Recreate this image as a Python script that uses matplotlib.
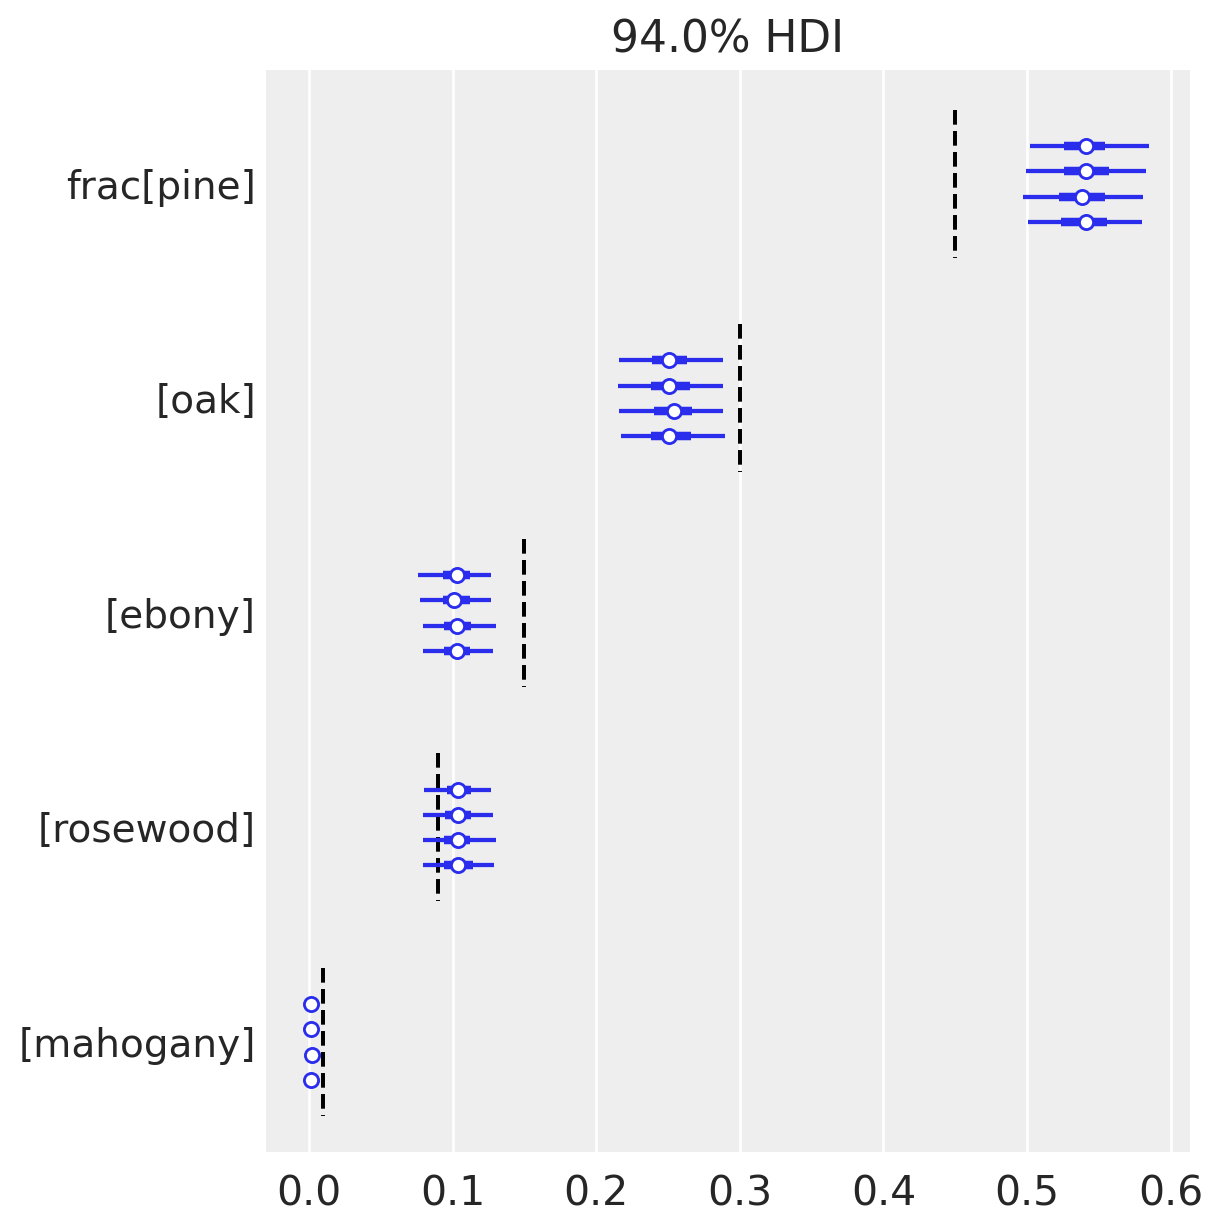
import numpy as np
import matplotlib.pyplot as plt

# variables (top to bottom) and reference values
labels = ['frac[pine]', '[oak]', '[ebony]', '[rosewood]', '[mahogany]']
ref_vals = [0.45, 0.30, 0.15, 0.09, 0.01]

# per chain: 94% hdi low/high, quartiles low/high, median (4 chains each)
hdi_lo = [[0.502, 0.499, 0.497, 0.501],
          [0.216, 0.215, 0.216, 0.217],
          [0.076, 0.077, 0.079, 0.079],
          [0.080, 0.079, 0.079, 0.079],
          [0.000, 0.000, 0.000, 0.000]]
hdi_hi = [[0.585, 0.583, 0.581, 0.580],
          [0.288, 0.288, 0.288, 0.290],
          [0.127, 0.127, 0.130, 0.128],
          [0.127, 0.128, 0.130, 0.129],
          [0.003, 0.003, 0.004, 0.003]]
q_lo = [[0.526, 0.526, 0.522, 0.524],
        [0.239, 0.238, 0.240, 0.238],
        [0.093, 0.093, 0.094, 0.094],
        [0.096, 0.095, 0.094, 0.094],
        [0.000, 0.000, 0.001, 0.000]]
q_hi = [[0.554, 0.557, 0.554, 0.556],
        [0.263, 0.265, 0.267, 0.266],
        [0.112, 0.112, 0.113, 0.112],
        [0.113, 0.113, 0.112, 0.114],
        [0.002, 0.002, 0.002, 0.002]]
medians = [[0.541, 0.541, 0.538, 0.541],
           [0.251, 0.251, 0.254, 0.251],
           [0.103, 0.101, 0.103, 0.103],
           [0.104, 0.104, 0.104, 0.104],
           [0.001, 0.001, 0.002, 0.001]]

blue = '#2a2eec'
txt = '#262626'

fig = plt.figure(figsize=(6, 6), dpi=1223 / 6)
ax = fig.add_axes([0.2175, 0.058, 0.7555, 0.8848])
ax.set_facecolor('#eeeeee')

n = len(labels)
chain_step = 0.118
centers = []
for i in range(n):
    yc = n - 1 - i
    centers.append(yc)
    for k in range(4):
        y = yc + (1.5 - k) * chain_step
        ax.plot([hdi_lo[i][k], hdi_hi[i][k]], [y, y], color=blue, lw=1.5,
                solid_capstyle='butt', zorder=3)
        ax.plot([q_lo[i][k], q_hi[i][k]], [y, y], color=blue, lw=3.0,
                solid_capstyle='butt', zorder=3)
        ax.plot(medians[i][k], y, 'o', color=blue, mfc='white', mec=blue,
                ms=5, mew=1.0, zorder=4)
    # reference value, drawn top-down so the dash pattern starts at the top
    ax.plot([ref_vals[i], ref_vals[i]], [yc + 0.345, yc - 0.345], color='k',
            ls='--', lw=1.4, zorder=2)

ax.set_xlim(-0.030, 0.6135)
ax.set_ylim(-0.513, n - 1 + 0.531)
ax.set_xticks(np.arange(0, 0.61, 0.1))
ax.set_xticklabels(['%.1f' % v for v in np.arange(0, 0.61, 0.1)])
ax.set_yticks(centers)
ax.set_yticklabels(labels)
ax.tick_params(axis='x', length=0, labelsize=14.5, labelcolor=txt, pad=8)
ax.tick_params(axis='y', length=0, labelsize=13.8, labelcolor=txt, pad=3.5)
ax.grid(axis='x', color='white', lw=0.9)
ax.set_axisbelow(True)
for s in ax.spines.values():
    s.set_visible(False)
ax.set_title('94.0% HDI', fontsize=15.5, color=txt, pad=6)

fig.savefig('out.png', dpi=1223 / 6, facecolor='white')
